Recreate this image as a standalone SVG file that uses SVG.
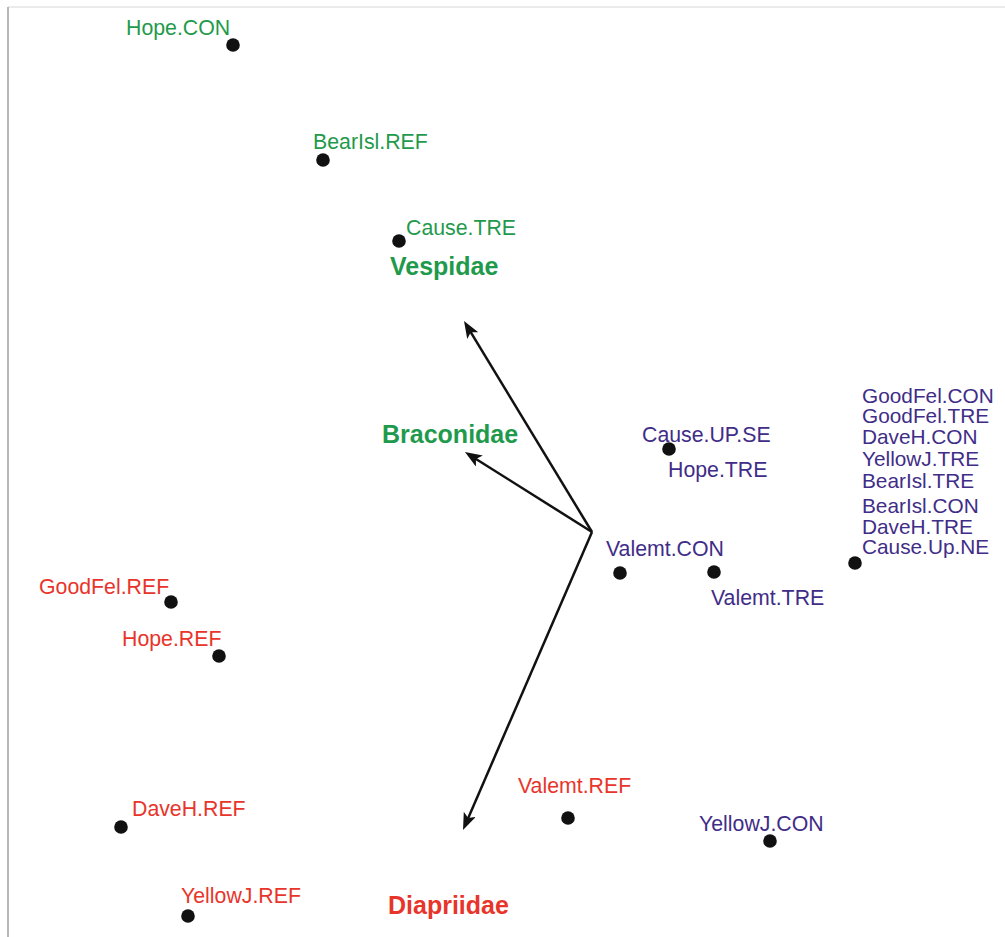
<svg xmlns="http://www.w3.org/2000/svg" width="1005" height="937" viewBox="0 0 1005 937">
<style>
text{font-family:"Liberation Sans",Arial,sans-serif;font-size:21.3px}
.stack{font-size:20.8px}
.g{fill:#1f9a4c}.b{fill:#3f2d88}.r{fill:#e8352b}
.bold{font-weight:bold;font-size:25px}
.dot{fill:#111}
.ax{stroke:#111;stroke-width:2.5;fill:none;marker-end:url(#ah)}
</style>
<defs>
<marker id="ah" viewBox="0 0 17 13" markerWidth="17" markerHeight="13" refX="12" refY="6.5" orient="auto" markerUnits="userSpaceOnUse">
<path d="M0,0 L17,6.5 L0,13 L4,6.5 z" fill="#111"/>
</marker>
</defs>
<rect width="1005" height="937" fill="#fff"/>
<line x1="8" y1="7" x2="1005" y2="7" stroke="#e4e4e4" stroke-width="1.5"/>
<line x1="8" y1="7" x2="8" y2="937" stroke="#a0a0a0" stroke-width="1.5"/>
<g id="connectors">
<path class="ax" d="M592,532 L466.6,325.3"/>
<path class="ax" d="M592,532 L469.2,454.7"/>
<path class="ax" d="M592,532 L465,825.4"/>
</g>
<g id="vespidae"><text class="g bold" x="390" y="275">Vespidae</text></g>
<g id="braconidae"><text class="g bold" x="382" y="443">Braconidae</text></g>
<g id="diapriidae"><text class="r bold" x="388" y="914">Diapriidae</text></g>
<g id="hope-con"><circle class="dot" cx="233" cy="45" r="6.8"/><text class="g" x="126" y="35">Hope.CON</text></g>
<g id="bearisl-ref"><circle class="dot" cx="323" cy="160" r="6.8"/><text class="g" x="313" y="149">BearIsl.REF</text></g>
<g id="cause-tre"><circle class="dot" cx="399" cy="241" r="6.8"/><text class="g" x="406" y="235">Cause.TRE</text></g>
<g id="cause-up-se"><circle class="dot" cx="669" cy="449" r="6.8"/><text class="b" x="642" y="442">Cause.UP.SE</text><text class="b" x="668" y="477">Hope.TRE</text></g>
<g id="valemt-con"><circle class="dot" cx="620" cy="573" r="6.8"/><text class="b" x="606" y="556">Valemt.CON</text></g>
<g id="valemt-tre"><circle class="dot" cx="714" cy="572" r="6.8"/><text class="b" x="711" y="605">Valemt.TRE</text></g>
<g id="cause-up-ne"><circle class="dot" cx="855" cy="563" r="6.8"/>
<text class="b stack" x="862" y="403">GoodFel.CON</text>
<text class="b stack" x="862" y="423">GoodFel.TRE</text>
<text class="b stack" x="862" y="444">DaveH.CON</text>
<text class="b stack" x="862" y="466">YellowJ.TRE</text>
<text class="b stack" x="862" y="488">BearIsl.TRE</text>
<text class="b stack" x="862" y="513">BearIsl.CON</text>
<text class="b stack" x="862" y="534">DaveH.TRE</text>
<text class="b stack" x="862" y="554">Cause.Up.NE</text>
</g>
<g id="goodfel-ref"><circle class="dot" cx="171" cy="602" r="6.8"/><text class="r" x="39" y="594">GoodFel.REF</text></g>
<g id="hope-ref"><circle class="dot" cx="219" cy="656" r="6.8"/><text class="r" x="122" y="646">Hope.REF</text></g>
<g id="daveh-ref"><circle class="dot" cx="121" cy="827" r="6.8"/><text class="r" x="132" y="816">DaveH.REF</text></g>
<g id="yellowj-ref"><circle class="dot" cx="188" cy="916" r="6.8"/><text class="r" x="181" y="903">YellowJ.REF</text></g>
<g id="valemt-ref"><circle class="dot" cx="568" cy="818" r="6.8"/><text class="r" x="518" y="793">Valemt.REF</text></g>
<g id="yellowj-con"><circle class="dot" cx="770" cy="841" r="6.8"/><text class="b" x="699" y="831">YellowJ.CON</text></g>
</svg>
